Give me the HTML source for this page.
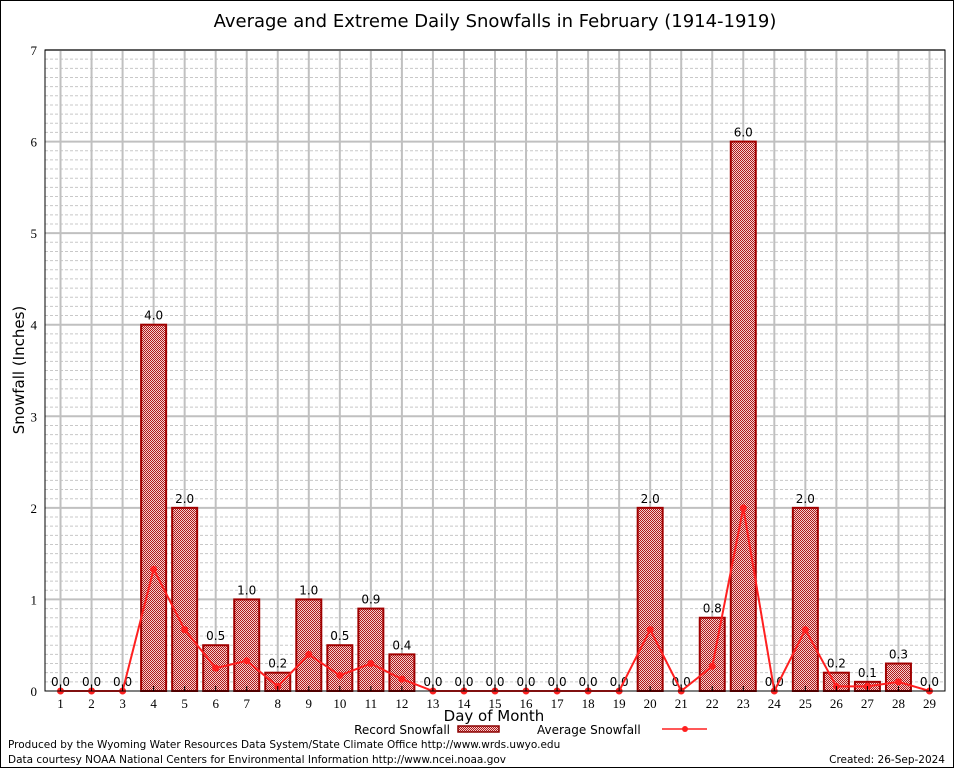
<!DOCTYPE html>
<html><head><meta charset="utf-8"><style>
body{margin:0;background:#fff}
svg{display:block}
</style></head><body>
<svg id="chart" width="954" height="768" xmlns="http://www.w3.org/2000/svg">
<defs>
<pattern id="chk" width="2" height="2" patternUnits="userSpaceOnUse">
<rect width="2" height="2" fill="#f4d0d0"/>
<rect width="1" height="1" fill="#b01818"/>
<rect x="1" y="1" width="1" height="1" fill="#b01818"/>
</pattern>
</defs>
<rect x="0.5" y="0.5" width="953" height="767" fill="#fff" stroke="#000"/>
<text x="495" y="27" text-anchor="middle" font-family="DejaVu Sans, Liberation Sans, sans-serif" font-size="18">Average and Extreme Daily Snowfalls in February (1914-1919)</text>
<g id="grid"></g>
<g id="bars"></g>
<g id="line"></g>
<g id="axes"></g>
<text x="24" y="370" text-anchor="middle" transform="rotate(-90 24 370)" font-family="DejaVu Sans, sans-serif" font-size="15">Snowfall (Inches)</text>
<text x="494" y="721" text-anchor="middle" font-family="DejaVu Sans, sans-serif" font-size="15">Day of Month</text>
<g font-family="DejaVu Sans, sans-serif" font-size="12">
<text x="450" y="734" text-anchor="end">Record Snowfall</text>
<rect x="458" y="726" width="41" height="6" fill="url(#chk)" stroke="#8b0000" stroke-width="1.5"/>
<text x="537" y="734">Average Snowfall</text>
<line x1="662" y1="729" x2="707" y2="729" stroke="#ff2020" stroke-width="1.5"/>
<circle cx="685" cy="729" r="3" fill="#ff2020"/>
</g>
<g font-family="DejaVu Sans, sans-serif" font-size="10.5">
<text x="8" y="748">Produced by the Wyoming Water Resources Data System/State Climate Office http://www.wrds.uwyo.edu</text>
<text x="8" y="763">Data courtesy NOAA National Centers for Environmental Information http://www.ncei.noaa.gov</text>
<text x="945" y="763" text-anchor="end">Created: 26-Sep-2024</text>
</g>
</svg>
<script>
const days = [1,2,3,4,5,6,7,8,9,10,11,12,13,14,15,16,17,18,19,20,21,22,23,24,25,26,27,28,29];
const recordSnow = [0,0,0,4.0,2.0,0.5,1.0,0.2,1.0,0.5,0.9,0.4,0,0,0,0,0,0,0,2.0,0,0.8,6.0,0,2.0,0.2,0.1,0.3,0];
const avgSnow = [0,0,0,1.33,0.67,0.25,0.33,0.05,0.4,0.17,0.3,0.13,0,0,0,0,0,0,0,0.67,0,0.27,2.0,0,0.67,0.05,0.05,0.1,0];
const yTicks = [0,1,2,3,4,5,6,7];

const L=45,R=945,T=50,B=691,yMax=7;
const NS='http://www.w3.org/2000/svg';
const x=d=>L+(d-0.5)/29*(R-L);
const y=v=>B-v/yMax*(B-T);
function mk(tag,attrs,parent,txt){const e=document.createElementNS(NS,tag);for(const k in attrs)e.setAttribute(k,attrs[k]);if(txt!==undefined)e.textContent=txt;parent.appendChild(e);return e;}
const grid=document.getElementById('grid'),bars=document.getElementById('bars'),line=document.getElementById('line'),axes=document.getElementById('axes');
for(let i=1;i<yMax*10;i++){if(i%10===0)continue;const g=mk('line',{x1:L,x2:R,y1:y(i/10),y2:y(i/10),stroke:'#c8c8c8','stroke-dasharray':'3,2','stroke-width':1},grid);

}
yTicks.forEach(t=>{if(t===0)return;const g=mk('line',{x1:L,x2:R,y1:y(t),y2:y(t),stroke:'#c0c0c0','stroke-width':2},grid);

});
days.forEach(d=>{const g=mk('line',{x1:x(d),x2:x(d),y1:T,y2:B,stroke:'#c0c0c0','stroke-width':2},grid);

});
days.forEach((d,i)=>{const v=recordSnow[i];
if(v>0){const r=mk('rect',{x:x(d)-12.5,y:y(v),width:25,height:B-y(v),fill:'url(#chk)',stroke:'#a00000','stroke-width':2},bars);

}
const t=mk('text',{x:x(d),y:y(v)-5,'text-anchor':'middle','font-family':'DejaVu Sans, sans-serif','font-size':12},bars,v.toFixed(1));

});
const pts=days.map((d,i)=>x(d)+','+y(avgSnow[i])).join(' ');
const pl=mk('polyline',{points:pts,fill:'none',stroke:'#ff2020','stroke-width':2},line);


days.forEach((d,i)=>{const c=mk('circle',{cx:x(d),cy:y(avgSnow[i]),r:3.5,fill:'#ff2020'},line);

});
const fr=mk('rect',{x:L,y:T,width:R-L,height:B-T,fill:'none',stroke:'#000','stroke-width':1},axes);


yTicks.forEach(t=>{const tx=mk('text',{x:L-8,y:y(t)+5,'text-anchor':'end','font-family':'Liberation Serif, serif','font-size':13},axes,String(t));

});
days.forEach(d=>{const tk=mk('line',{x1:x(d),x2:x(d),y1:B,y2:B-5,stroke:'#000'},axes);


const tx=mk('text',{x:x(d),y:B+17,'text-anchor':'middle','font-family':'Liberation Serif, serif','font-size':13},axes,String(d));

});
</script>
</body></html>
